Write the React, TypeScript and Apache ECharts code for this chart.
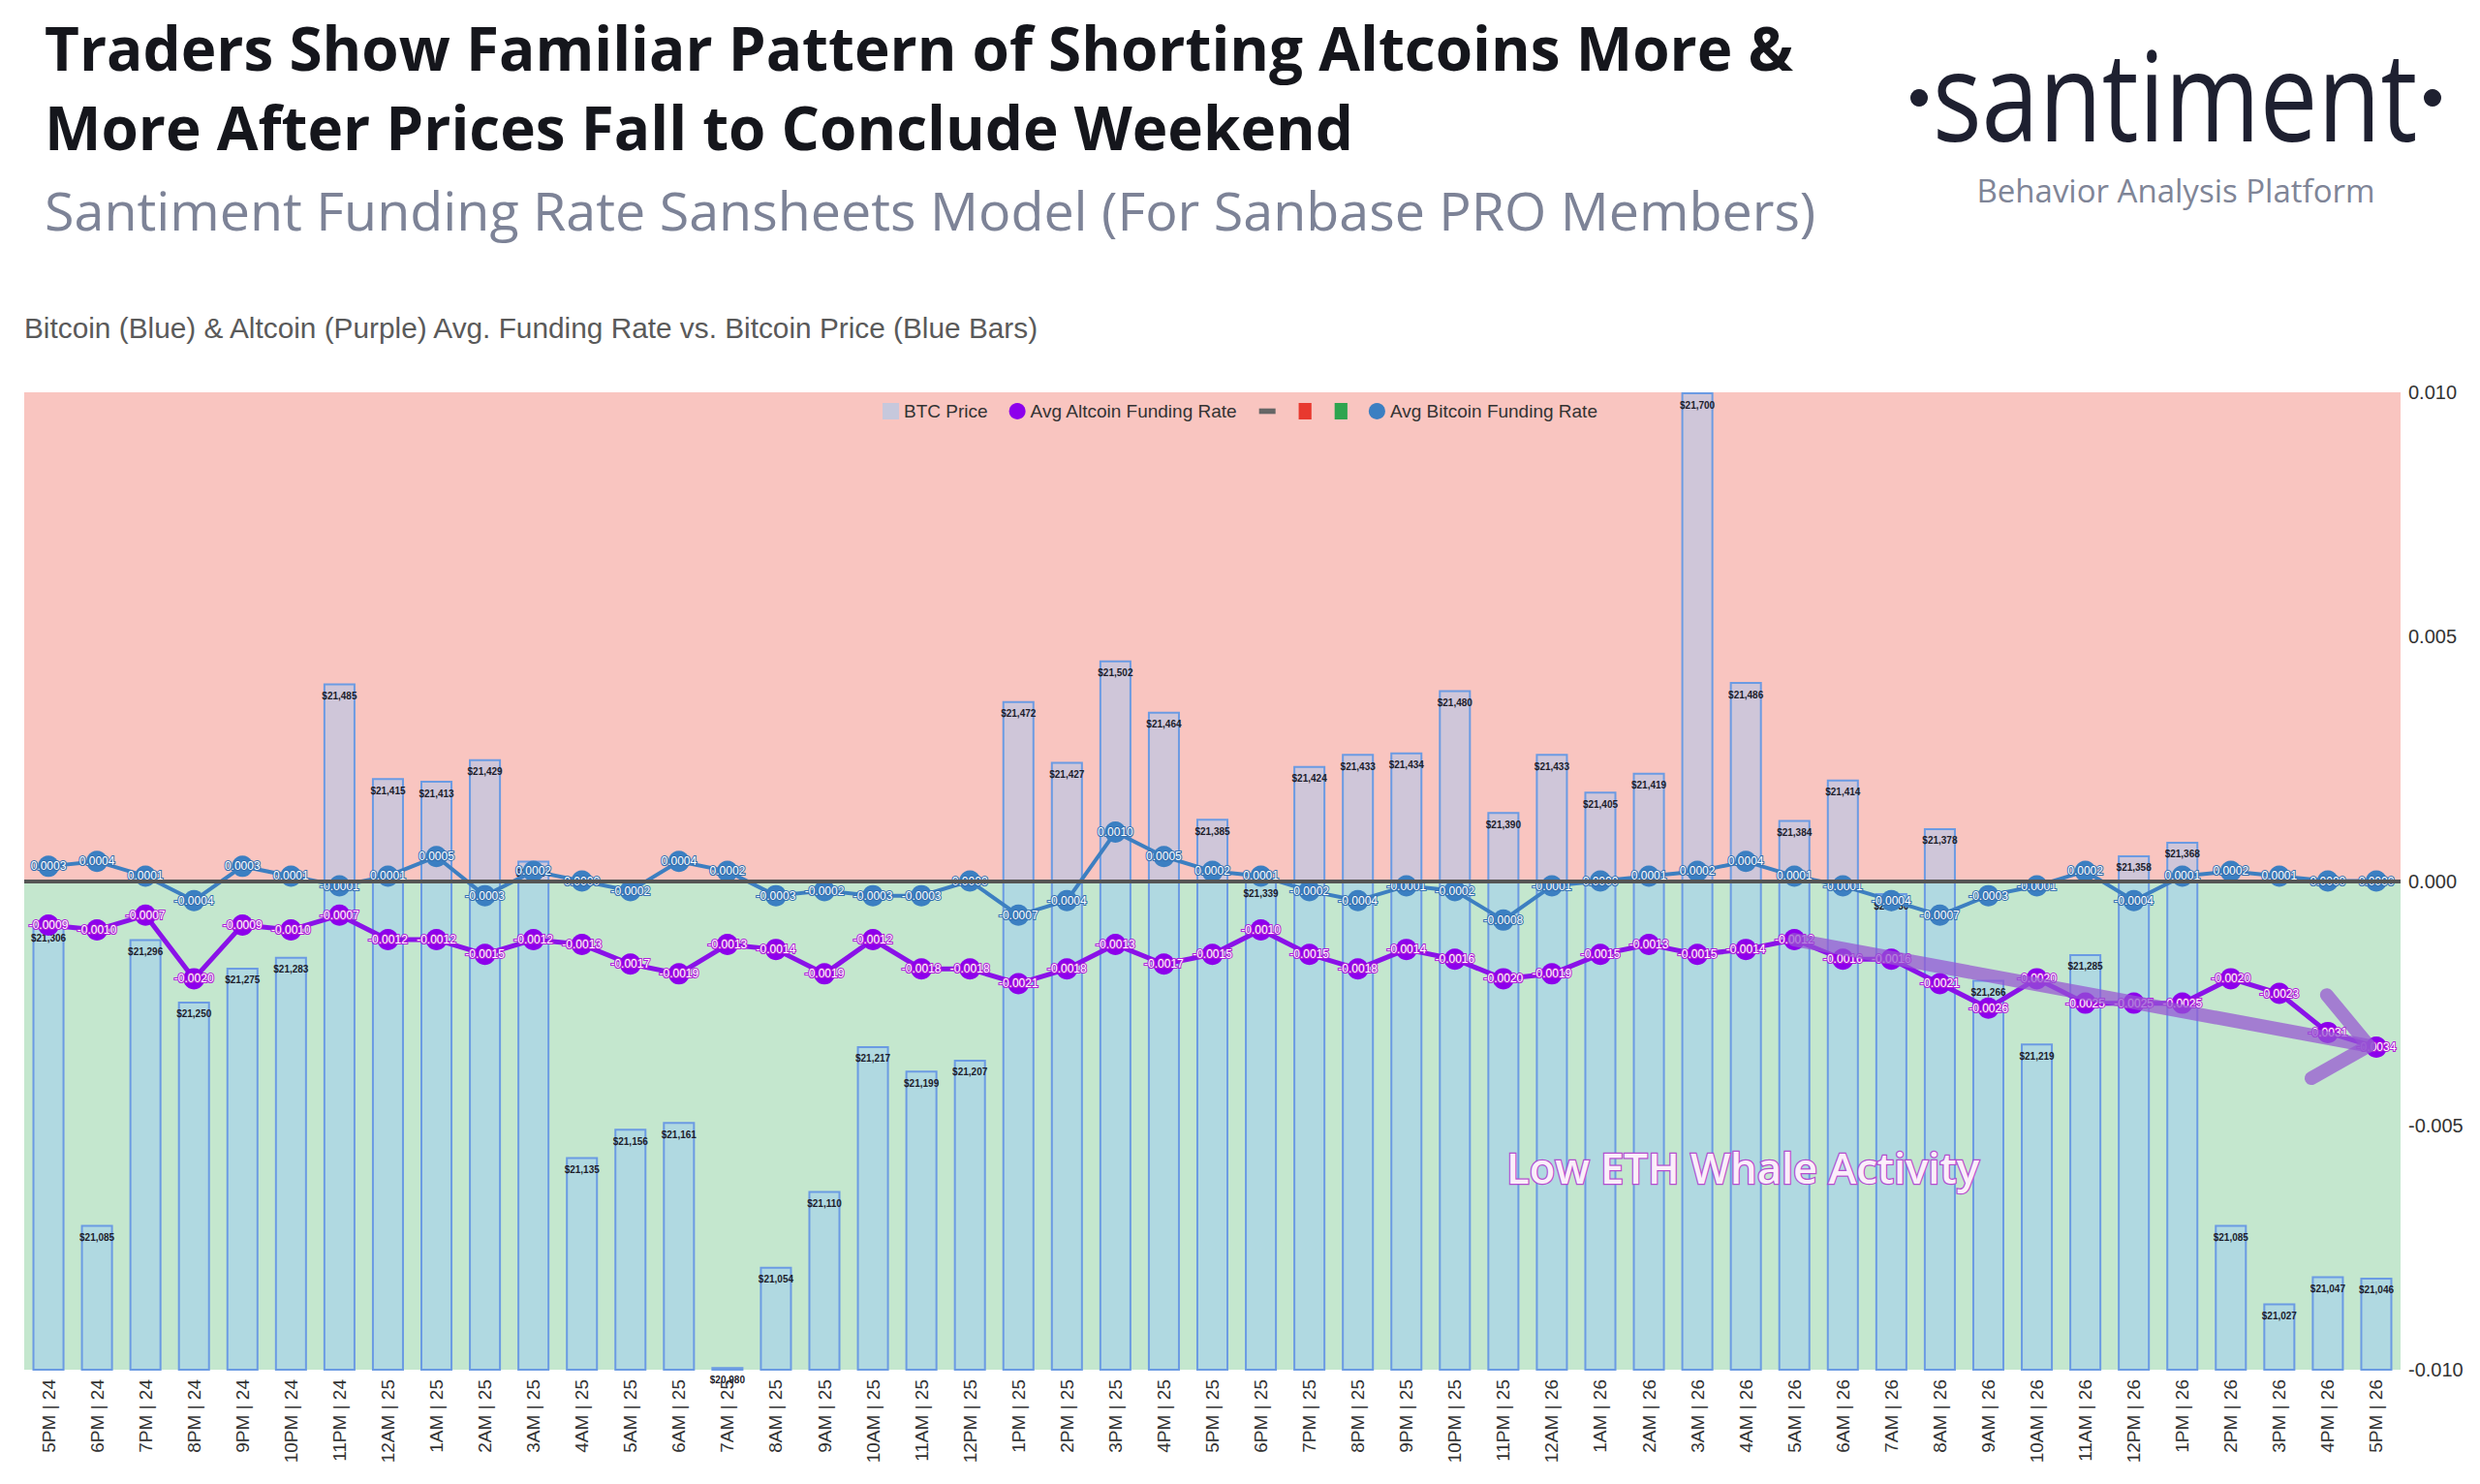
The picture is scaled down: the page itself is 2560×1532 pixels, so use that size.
import React, { useEffect, useRef } from "react";
import * as echarts from "echarts";

const categories = [
  "5PM | 24", "6PM | 24", "7PM | 24", "8PM | 24", "9PM | 24", "10PM | 24", "11PM | 24",
  "12AM | 25", "1AM | 25", "2AM | 25", "3AM | 25", "4AM | 25", "5AM | 25", "6AM | 25", "7AM | 25",
  "8AM | 25", "9AM | 25", "10AM | 25", "11AM | 25", "12PM | 25", "1PM | 25", "2PM | 25", "3PM | 25",
  "4PM | 25", "5PM | 25", "6PM | 25", "7PM | 25", "8PM | 25", "9PM | 25", "10PM | 25", "11PM | 25",
  "12AM | 26", "1AM | 26", "2AM | 26", "3AM | 26", "4AM | 26", "5AM | 26", "6AM | 26", "7AM | 26",
  "8AM | 26", "9AM | 26", "10AM | 26", "11AM | 26", "12PM | 26", "1PM | 26", "2PM | 26", "3PM | 26",
  "4PM | 26", "5PM | 26",
];

const btcPrice = [
  21306, 21085, 21296, 21250, 21275, 21283, 21485, 21415, 21413, 21429, 21354, 21135, 21156, 21161,
  20980, 21054, 21110, 21217, 21199, 21207, 21472, 21427, 21502, 21464, 21385, 21339, 21424, 21433,
  21434, 21480, 21390, 21433, 21405, 21419, 21700, 21486, 21384, 21414, 21330, 21378, 21266, 21219,
  21285, 21358, 21368, 21085, 21027, 21047, 21046,
];

const altcoinFunding = [
  -0.0009, -0.001, -0.0007, -0.002, -0.0009, -0.001, -0.0007, -0.0012, -0.0012, -0.0015, -0.0012,
  -0.0013, -0.0017, -0.0019, -0.0013, -0.0014, -0.0019, -0.0012, -0.0018, -0.0018, -0.0021, -0.0018,
  -0.0013, -0.0017, -0.0015, -0.001, -0.0015, -0.0018, -0.0014, -0.0016, -0.002, -0.0019, -0.0015,
  -0.0013, -0.0015, -0.0014, -0.0012, -0.0016, -0.0016, -0.0021, -0.0026, -0.002, -0.0025, -0.0025,
  -0.0025, -0.002, -0.0023, -0.0031, -0.0034,
];

const bitcoinFunding = [
  0.0003, 0.0004, 0.0001, -0.0004, 0.0003, 0.0001, -0.0001, 0.0001, 0.0005, -0.0003, 0.0002, 0.0,
  -0.0002, 0.0004, 0.0002, -0.0003, -0.0002, -0.0003, -0.0003, 0.0, -0.0007, -0.0004, 0.001, 0.0005,
  0.0002, 0.0001, -0.0002, -0.0004, -0.0001, -0.0002, -0.0008, -0.0001, 0.0, 0.0001, 0.0002, 0.0004,
  0.0001, -0.0001, -0.0004, -0.0007, -0.0003, -0.0001, 0.0002, -0.0004, 0.0001, 0.0002, 0.0001, 0.0,
  0.0,
];

const priceAxisRange = [20978, 21700];
const rateAxisRange = [-0.01, 0.01];
const rateAxisInterval = 0.005;

// annotation arrow: from the 5AM|26 altcoin point to the last point
const arrowFromIndex = 36;
const arrowToIndex = 48;

const emptyData = categories.map(() => null);

export default function App() {
  const ref = useRef<HTMLDivElement>(null);

  useEffect(() => {
    const chart = echarts.init(ref.current!, null, { renderer: "svg" });
    const option: any = {
      animation: false,
      backgroundColor: "#ffffff",
      grid: { left: 25, right: 82, top: 405, bottom: 118, containLabel: false },
      legend: {
        top: 410,
        left: "center",
        selectedMode: false,
        itemGap: 22,
        itemWidth: 17,
        itemHeight: 17,
        textStyle: { fontSize: 19, color: "#333", fontFamily: "Liberation Sans" },
        formatter: (name: string) => (name.startsWith("_") ? "" : name),
        data: [
          { name: "BTC Price", icon: "rect", itemStyle: { color: "#c6c8dc", borderWidth: 0 } },
          { name: "Avg Altcoin Funding Rate", icon: "circle" },
          { name: "_zero", icon: "path://M0,0H24V8H0Z", itemStyle: { color: "#666" } },
          { name: "_red", icon: "path://M0,0H14V18H0Z", itemStyle: { color: "#e8392f" } },
          { name: "_green", icon: "path://M0,0H14V18H0Z", itemStyle: { color: "#2ea44f" } },
          { name: "Avg Bitcoin Funding Rate", icon: "circle" },
        ],
      },
      xAxis: {
        type: "category",
        data: categories,
        boundaryGap: true,
        axisLine: { show: false },
        axisTick: { show: false },
        axisLabel: {
          rotate: 90,
          interval: 0,
          fontSize: 19,
          color: "#333",
          margin: 10,
          fontFamily: "Liberation Sans",
        },
      },
      yAxis: [
        {
          type: "value",
          min: priceAxisRange[0],
          max: priceAxisRange[1],
          show: false,
        },
        {
          type: "value",
          position: "right",
          min: rateAxisRange[0],
          max: rateAxisRange[1],
          interval: rateAxisInterval,
          splitLine: { show: false },
          axisLine: { show: false },
          axisTick: { show: false },
          axisLabel: {
            fontSize: 20,
            color: "#333",
            margin: 8,
            fontFamily: "Liberation Sans",
            formatter: (v: number) => v.toFixed(3),
          },
        },
      ],
      series: [
        {
          name: "_red",
          type: "line",
          yAxisIndex: 1,
          data: emptyData,
          z: 0,
          showSymbol: false,
          itemStyle: { color: "#e8392f" },
          lineStyle: { opacity: 0 },
          markArea: {
            silent: true,
            itemStyle: { color: "#f9c5c0" },
            data: [[{ yAxis: 0 }, { yAxis: rateAxisRange[1] }]],
          },
        },
        {
          name: "_green",
          type: "line",
          yAxisIndex: 1,
          data: emptyData,
          z: 0,
          showSymbol: false,
          itemStyle: { color: "#2ea44f" },
          lineStyle: { opacity: 0 },
          markArea: {
            silent: true,
            itemStyle: { color: "#c4e7ce" },
            data: [[{ yAxis: rateAxisRange[0] }, { yAxis: 0 }]],
          },
        },
        {
          name: "BTC Price",
          type: "bar",
          yAxisIndex: 0,
          data: btcPrice,
          barWidth: "66%",
          z: 2,
          itemStyle: {
            color: "rgba(150,200,250,0.43)",
            borderColor: "#6b9be3",
            borderWidth: 2,
          },
          label: {
            show: true,
            position: "insideTop",
            distance: 8,
            fontSize: 10,
            fontWeight: "bold",
            color: "#1d1d2b",
            fontFamily: "Liberation Sans",
            formatter: (p: any) => "$" + Number(p.value).toLocaleString("en-US"),
          },
        },
        {
          name: "_zero",
          type: "line",
          yAxisIndex: 1,
          data: emptyData,
          z: 3,
          showSymbol: false,
          itemStyle: { color: "#666" },
          lineStyle: { opacity: 0 },
          markLine: {
            silent: true,
            symbol: ["none", "none"],
            label: { show: false },
            lineStyle: { color: "#555", width: 4, type: "solid" },
            data: [{ yAxis: 0 }],
          },
        },
        {
          name: "Avg Bitcoin Funding Rate",
          type: "line",
          yAxisIndex: 1,
          data: bitcoinFunding,
          z: 4,
          symbol: "circle",
          symbolSize: 22,
          showAllSymbol: true,
          itemStyle: { color: "#3b7fc2" },
          lineStyle: { color: "#3d7fc1", width: 4 },
          label: {
            show: true,
            position: "inside",
            fontSize: 12,
            color: "#ffffff",
            textBorderColor: "#3470b0",
            textBorderWidth: 2,
            fontFamily: "Liberation Sans",
            formatter: (p: any) => Number(p.value).toFixed(4),
          },
        },
        {
          name: "Avg Altcoin Funding Rate",
          type: "line",
          yAxisIndex: 1,
          data: altcoinFunding,
          z: 5,
          symbol: "circle",
          symbolSize: 22,
          showAllSymbol: true,
          itemStyle: { color: "#8d00ec" },
          lineStyle: { color: "#8a12e8", width: 5 },
          label: {
            show: true,
            position: "inside",
            fontSize: 12,
            color: "#ffffff",
            textBorderColor: "#b020d8",
            textBorderWidth: 2,
            fontFamily: "Liberation Sans",
            formatter: (p: any) => Number(p.value).toFixed(4),
          },
        },
      ],
    };
    chart.setOption(option);

    const p0 = chart.convertToPixel({ xAxisIndex: 0, yAxisIndex: 1 }, [
      arrowFromIndex,
      altcoinFunding[arrowFromIndex],
    ]) as number[];
    const p1raw = chart.convertToPixel({ xAxisIndex: 0, yAxisIndex: 1 }, [
      arrowToIndex,
      altcoinFunding[arrowToIndex],
    ]) as number[];
    const dx = p1raw[0] - p0[0];
    const dy = p1raw[1] - p0[1];
    const len = Math.sqrt(dx * dx + dy * dy);
    const ux = dx / len;
    const uy = dy / len;
    const tip = [p1raw[0] - ux * 8, p1raw[1] - uy * 8];
    const armLen = 68;
    const ang = (40 * Math.PI) / 180;
    const bx = -ux;
    const by = -uy;
    const arm1 = [
      tip[0] + armLen * (bx * Math.cos(ang) - by * Math.sin(ang)),
      tip[1] + armLen * (bx * Math.sin(ang) + by * Math.cos(ang)),
    ];
    const arm2 = [
      tip[0] + armLen * (bx * Math.cos(-ang) - by * Math.sin(-ang)),
      tip[1] + armLen * (bx * Math.sin(-ang) + by * Math.cos(-ang)),
    ];
    const arrowStyle = {
      stroke: "rgba(150,85,210,0.72)",
      lineWidth: 14,
      lineCap: "round",
      lineJoin: "round",
      fill: null,
    };

    chart.setOption({
      graphic: [
        {
          type: "text",
          x: 46,
          y: 49,
          style: {
            text: "Traders Show Familiar Pattern of Shorting Altcoins More &",
            font: 'bold 62px "Open Sans"',
            fill: "#15161c",
            textVerticalAlign: "middle",
            verticalAlign: "middle",
          },
        },
        {
          type: "text",
          x: 46,
          y: 131,
          style: {
            text: "More After Prices Fall to Conclude Weekend",
            font: 'bold 62px "Open Sans"',
            fill: "#15161c",
            textVerticalAlign: "middle",
            verticalAlign: "middle",
          },
        },
        {
          type: "text",
          x: 46,
          y: 216,
          style: {
            text: "Santiment Funding Rate Sansheets Model (For Sanbase PRO Members)",
            font: '55.6px "Open Sans"',
            fill: "#7d8397",
            textVerticalAlign: "middle",
            verticalAlign: "middle",
          },
        },
        {
          type: "text",
          x: 25,
          y: 338,
          style: {
            text: "Bitcoin (Blue) & Altcoin (Purple) Avg. Funding Rate vs. Bitcoin Price (Blue Bars)",
            font: '29.8px "Liberation Sans"',
            fill: "#5a5a5a",
            textVerticalAlign: "middle",
            verticalAlign: "middle",
          },
        },
        {
          type: "circle",
          shape: { cx: 1981, cy: 101, r: 9 },
          style: { fill: "#1e2030" },
        },
        {
          type: "circle",
          shape: { cx: 2511, cy: 101, r: 9 },
          style: { fill: "#1e2030" },
        },
        {
          type: "text",
          x: 1995,
          y: 96,
          scaleX: 0.83,
          style: {
            text: "santiment",
            font: '128px "Open Sans"',
            fill: "#1e2030",
            textVerticalAlign: "middle",
            verticalAlign: "middle",
          },
        },
        {
          type: "text",
          x: 2246,
          y: 196,
          style: {
            text: "Behavior Analysis Platform",
            font: '33px "Open Sans"',
            fill: "#7f8597",
            textAlign: "center",
            align: "center",
            textVerticalAlign: "middle",
            verticalAlign: "middle",
          },
        },
        {
          type: "text",
          x: 1799,
          y: 1205,
          z: 100,
          style: {
            text: "Low ETH Whale Activity",
            font: '600 43.5px "Open Sans"',
            fill: "#fbeefa",
            stroke: "#b54ccf",
            lineWidth: 2.5,
            textAlign: "center",
            align: "center",
            textVerticalAlign: "middle",
            verticalAlign: "middle",
          },
        },
        {
          type: "polyline",
          z: 100,
          shape: { points: [p0, tip] },
          style: arrowStyle,
        },
        {
          type: "polyline",
          z: 100,
          shape: { points: [arm1, tip, arm2] },
          style: arrowStyle,
        },
      ],
    });

    return () => chart.dispose();
  }, []);

  return (
    <div
      ref={ref}
      style={{ position: "absolute", left: 0, top: 0, width: 2560, height: 1532, background: "#fff" }}
    />
  );
}
